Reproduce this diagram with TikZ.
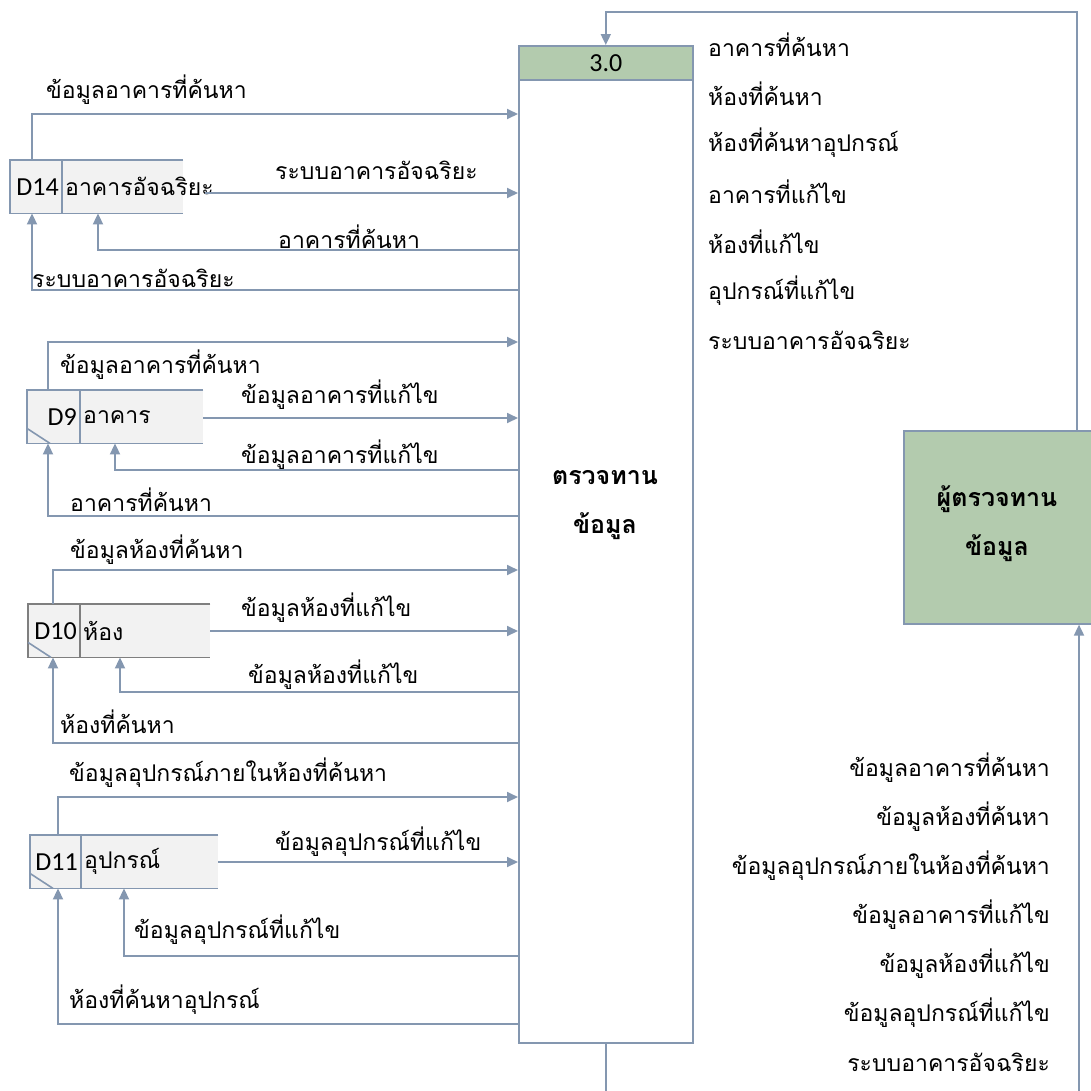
\documentclass[tikz,border=0pt]{standalone}
\usepackage{fontspec}
\setmainfont[Script=Thai]{Loma}
\newfontfamily\latinfont{Carlito}
\usetikzlibrary{arrows.meta}

\definecolor{flowline}{HTML}{8497B0}
\definecolor{boxgreen}{HTML}{B3CBAE}
\definecolor{storefill}{HTML}{F2F2F2}
\definecolor{darkedge}{HTML}{7F7F7F}

\tikzset{
  flow/.style={draw=flowline, line width=1.8pt, -{Triangle[length=11pt,width=10pt]}},
  lbl/.style={inner sep=0pt, font=\fontsize{23}{27}\selectfont},
  storebody/.style={fill=storefill, draw=none, minimum height=53pt, inner sep=0pt},
  storeline/.style={draw=flowline, line width=1.6pt},
  storetext/.style={inner sep=0pt, font=\fontsize{23}{27}\selectfont},
  procbox/.style={draw=flowline, line width=1.6pt, fill=white, inner sep=0pt},
  prochead/.style={draw=flowline, line width=1.6pt, fill=boxgreen, inner sep=0pt,
    font=\latinfont\fontsize{26}{30}\selectfont},
  entitybox/.style={draw=flowline, line width=1.6pt, fill=boxgreen, inner sep=0pt},
  bigtext/.style={inner sep=0pt, align=center, font=\bfseries\fontsize{25}{49}\selectfont},
}

% data store: name, x, y (top), width, divider offset, id, title, edge colour
\newcommand{\dstore}[8]{%
  \node[storebody, minimum width=#4pt, anchor=north west] (#1) at (#2,#3) {};
  \node[storetext, anchor=east] (#1-id) at ([xshift=#5pt-3pt]#1.west) {\latinfont\fontsize{26}{30}\selectfont #6};
  \node[storetext, anchor=west] (#1-name) at ([xshift=#5pt+3pt]#1.west) {#7};
  \draw[storeline, draw=#8] (#1.north east) -- (#1.north west) -- (#1.south west) -- (#1.south east);
  \draw[storeline, draw=#8] ([xshift=#5pt]#1.north west) -- ([xshift=#5pt]#1.south west);
}
% corner mark of a local store
\newcommand{\dmark}[2]{%
  \draw[storeline, draw=#2] ([yshift=15pt]#1.south west) -- ([xshift=23pt]#1.south west);
}

\begin{document}
\begin{tikzpicture}[x=1pt, y=-1pt]
\useasboundingbox (0,0) rectangle (1091,1090);
\clip (0,0) rectangle (1091,1090);

% process 3.0
\node[procbox, minimum width=174pt, minimum height=997pt, anchor=north west] (proc) at (518,45) {};
\node[prochead, minimum width=174pt, minimum height=34pt, anchor=north west] (hdr) at (518,45) {3.0};
\node[bigtext] (ptext) at (605,505) {ตรวจทาน\\ข้อมูล};

% external entity
\node[entitybox, minimum width=192pt, minimum height=193pt, anchor=north west] (ent) at (903,430) {};
\node[bigtext] (etext) at (997,524) {ผู้ตรวจทาน\\ข้อมูล};

% data stores
\dstore{d14}{10}{160}{173}{52}{D14}{อาคารอัจฉริยะ}{flowline}
\dstore{d9}{27}{390}{176}{53}{D9}{อาคาร}{flowline}
\dmark{d9}{flowline}
\dstore{d10}{28}{604}{182}{52}{D10}{ห้อง}{darkedge}
\dmark{d10}{flowline}
\dstore{d11}{30}{835}{188}{51}{D11}{อุปกรณ์}{flowline}
\dmark{d11}{flowline}

% D14 flows
\draw[flow] (d14.north -| 32,0) |- (proc.west |- 0,114);
\node[lbl, anchor=west] (l1) at (46,90) {ข้อมูลอาคารที่ค้นหา};
\draw[flow] (205,193) -- (proc.west |- 0,193);
\node[lbl, anchor=west] (l2) at (275,170) {ระบบอาคารอัจฉริยะ};
\draw[flow] (proc.west |- 0,250) -| (d14.south -| 98,0);
\node[lbl, anchor=west] (l3) at (278,237) {อาคารที่ค้นหา};
\draw[flow] (proc.west |- 0,290) -| (d14.south -| 32,0);
\node[lbl, anchor=west] (l4) at (32,278) {ระบบอาคารอัจฉริยะ};

% D9 flows
\draw[flow] (d9.north -| 48,0) |- (proc.west |- 0,342);
\node[lbl, anchor=west] (l5) at (60,365) {ข้อมูลอาคารที่ค้นหา};
\draw[flow] (d9.east |- 0,418) -- (proc.west |- 0,418);
\node[lbl, anchor=west] (l6) at (241,395) {ข้อมูลอาคารที่แก้ไข};
\draw[flow] (proc.west |- 0,470) -| (d9.south -| 115,0);
\node[lbl, anchor=west] (l7) at (241,455) {ข้อมูลอาคารที่แก้ไข};
\draw[flow] (proc.west |- 0,516) -| (d9.south -| 48,0);
\node[lbl, anchor=west] (l8) at (70,500) {อาคารที่ค้นหา};

% D10 flows
\draw[flow] (d10.north -| 53,0) |- (proc.west |- 0,570);
\node[lbl, anchor=west] (l9) at (70,550) {ข้อมูลห้องที่ค้นหา};
\draw[flow] (d10.east |- 0,631) -- (proc.west |- 0,631);
\node[lbl, anchor=west] (l10) at (241,608) {ข้อมูลห้องที่แก้ไข};
\draw[flow] (proc.west |- 0,692) -| (d10.south -| 120,0);
\node[lbl, anchor=west] (l11) at (248,675) {ข้อมูลห้องที่แก้ไข};
\draw[flow] (proc.west |- 0,743) -| (d10.south -| 53,0);
\node[lbl, anchor=west] (l12) at (60,722) {ห้องที่ค้นหา};

% D11 flows
\draw[flow] (d11.north -| 58,0) |- (proc.west |- 0,797);
\node[lbl, anchor=west] (l13) at (69,773) {ข้อมูลอุปกรณ์ภายในห้องที่ค้นหา};
\draw[flow] (d11.east |- 0,862) -- (proc.west |- 0,862);
\node[lbl, anchor=west] (l14) at (275,842) {ข้อมูลอุปกรณ์ที่แก้ไข};
\draw[flow] (proc.west |- 0,956) -| (d11.south -| 124,0);
\node[lbl, anchor=west] (l15) at (134,930) {ข้อมูลอุปกรณ์ที่แก้ไข};
\draw[flow] (proc.west |- 0,1024) -| (d11.south -| 58,0);
\node[lbl, anchor=west] (l16) at (69,1000) {ห้องที่ค้นหาอุปกรณ์};

% entity -> process (top loop)
\draw[flow] (ent.north -| 1077,0) |- (hdr.north |- 0,12) -- (hdr.north);
\node[lbl, anchor=west] (r1) at (708,45) {อาคารที่ค้นหา};
\node[lbl, anchor=west] (r2) at (708,94) {ห้องที่ค้นหา};
\node[lbl, anchor=west] (r3) at (708,143) {ห้องที่ค้นหาอุปกรณ์};
\node[lbl, anchor=west] (r4) at (708,192) {อาคารที่แก้ไข};
\node[lbl, anchor=west] (r5) at (708,242) {ห้องที่แก้ไข};
\node[lbl, anchor=west] (r6) at (708,291) {อุปกรณ์ที่แก้ไข};
\node[lbl, anchor=west] (r7) at (708,340) {ระบบอาคารอัจฉริยะ};

% process -> entity (bottom loop, runs below the page edge)
\draw[flow] (proc.south) -- ++(0,70) -| (ent.south -| 1079,0);
\node[lbl, anchor=east] (b1) at (1050,768) {ข้อมูลอาคารที่ค้นหา};
\node[lbl, anchor=east] (b2) at (1050,817) {ข้อมูลห้องที่ค้นหา};
\node[lbl, anchor=east] (b3) at (1050,866) {ข้อมูลอุปกรณ์ภายในห้องที่ค้นหา};
\node[lbl, anchor=east] (b4) at (1050,915) {ข้อมูลอาคารที่แก้ไข};
\node[lbl, anchor=east] (b5) at (1050,964) {ข้อมูลห้องที่แก้ไข};
\node[lbl, anchor=east] (b6) at (1050,1013) {ข้อมูลอุปกรณ์ที่แก้ไข};
\node[lbl, anchor=east] (b7) at (1050,1062) {ระบบอาคารอัจฉริยะ};
\end{tikzpicture}
\end{document}
